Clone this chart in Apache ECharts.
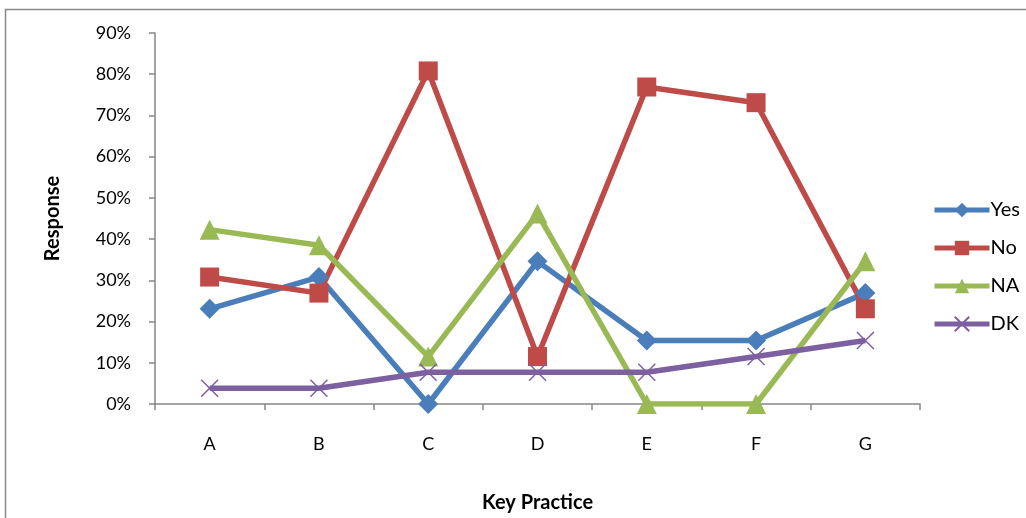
<!DOCTYPE html>
<html><head><meta charset="utf-8">
<script src="https://cdn.jsdelivr.net/npm/echarts@6/dist/echarts.min.js"></script>
<style>html,body{margin:0;padding:0;background:#fff}#c{width:1026px;height:518px}</style>
</head><body><div id="c"></div>
<script>
const categories = ['A','B','C','D','E','F','G'];
const yesVals = [23.1, 30.8, 0, 34.6, 15.4, 15.4, 26.9];
const noVals  = [30.8, 26.9, 80.8, 11.5, 76.9, 73.1, 23.1];
const naVals  = [42.3, 38.5, 11.5, 46.2, 0, 0, 34.6];
const dkVals  = [3.8, 3.8, 7.7, 7.7, 7.7, 11.5, 15.4];
const seriesNames = ['Yes','No','NA','DK'];
const yTicks = [0,10,20,30,40,50,60,70,80,90];

const FONT = 'Lato, "Open Sans", sans-serif';
const colors = ['#4a7ebb','#be4b48','#98b954','#7d60a0'];
const cross = 'path://M0,0L10,10M10,0L0,10';

function mk(name, data, color, symbol, size, extra){
  return Object.assign({
    name, type:'line', data, symbol, symbolSize:size, showSymbol:true,
    lineStyle:{color, width:5.5}, itemStyle:{color},
    emphasis:{disabled:true}, animation:false
  }, extra||{});
}

const chart = echarts.init(document.getElementById('c'), null, {renderer:'canvas'});
chart.setOption({
  animation:false,
  textStyle:{fontFamily:FONT},
  graphic:[{type:'rect', shape:{x:5.5,y:9.5,width:1100,height:600}, style:{fill:'none', stroke:'#888', lineWidth:1.5}, silent:true}],
  grid:{left:155, top:33, right:106, bottom:113, containLabel:false},
  legend:{
    orient:'vertical', left:927, top:195, itemWidth:55, itemHeight:18, itemGap:18,
    lineStyle:{width:5},
    textStyle:{fontSize:20, color:'#000', fontFamily:FONT, padding:[0,0,0,-4]},
    data:seriesNames
  },
  xAxis:{
    type:'category', data:categories, boundaryGap:true,
    name:'Key Practice', nameLocation:'middle', nameGap:89,
    nameTextStyle:{fontSize:20, fontWeight:'bold', color:'#000', fontFamily:FONT},
    axisLine:{lineStyle:{color:'#868686', width:1.5}},
    axisTick:{show:true, alignWithLabel:false, length:6, lineStyle:{color:'#868686', width:1.5}},
    axisLabel:{fontSize:18, color:'#000', margin:31, fontFamily:FONT}
  },
  yAxis:{
    type:'value', min:0, max:90, interval:10,
    name:'Response', nameLocation:'middle', nameGap:92, nameRotate:90,
    nameTextStyle:{fontSize:20, fontWeight:'bold', color:'#000', fontFamily:FONT},
    axisLine:{show:true, lineStyle:{color:'#868686', width:1.5}},
    axisTick:{show:true, length:6, lineStyle:{color:'#868686', width:1.5}},
    splitLine:{show:false},
    axisLabel:{fontSize:18, color:'#000', margin:24, fontFamily:FONT,
      formatter:(v)=> yTicks.includes(v) ? v+'%' : ''}
  },
  series:[
    mk('Yes', yesVals, colors[0], 'diamond', 20),
    mk('No', noVals, colors[1], 'rect', 19),
    mk('NA', naVals, colors[2], 'triangle', 20),
    mk('DK', dkVals, colors[3], cross, 17, {itemStyle:{color:colors[3], borderColor:colors[3], borderWidth:1.5}})
  ]
});
</script></body></html>
